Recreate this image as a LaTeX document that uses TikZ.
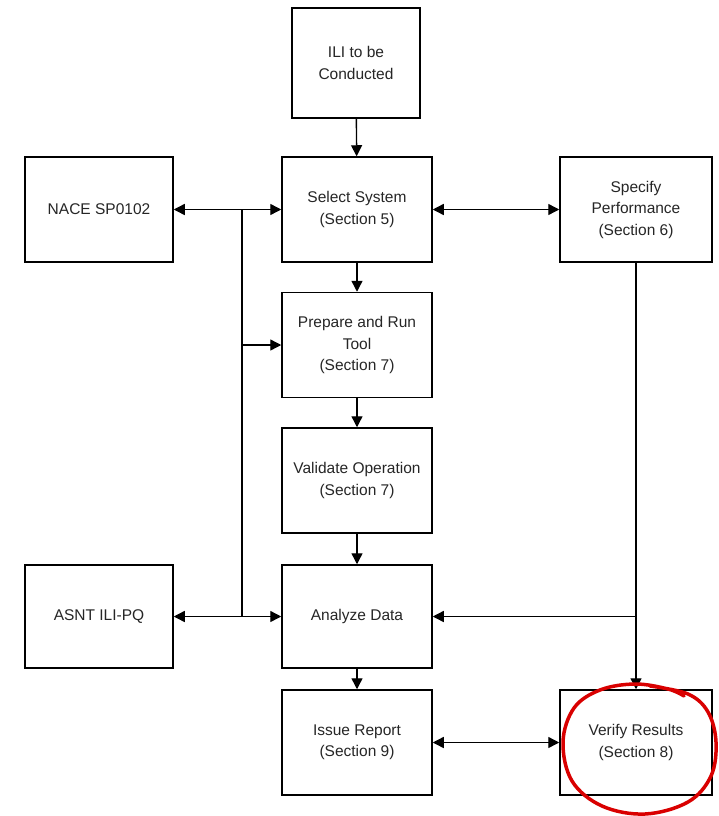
\documentclass[tikz,border=0pt]{standalone}
\usepackage{fontspec}
\setmainfont{Liberation Sans}
\usetikzlibrary{arrows.meta}
\begin{document}
\begin{tikzpicture}[x=1pt,y=-1pt,
  box/.style={draw=black, line width=1.5pt, fill=white, align=center,
    text=black!85, font=\fontsize{15.5}{21.5}\selectfont, inner sep=2pt},
  wide/.style={box, minimum width=150pt, minimum height=105pt},
  link/.style={line width=1.4pt},
  tip/.style={Triangle[length=11pt,width=11pt]},
  arr/.style={link, -{Triangle[length=11pt,width=11pt]}},
  darr/.style={link, {Triangle[length=11pt,width=11pt]}-{Triangle[length=11pt,width=11pt]}},
  mark circle/.style={draw=red!85!black, line width=3.5pt, line cap=round}]
\useasboundingbox (0,0) rectangle (718,816);
\fill[white] (0,0) rectangle (718,816);

% process boxes
\node[box, minimum width=128pt, minimum height=110pt] (ili) at (356,63) {ILI to be\\Conducted};
\node[wide] (sel)  at (357,209.5) {Select System\\(Section 5)};
\node[wide, minimum width=148pt] (nace) at (99,209.5) {NACE SP0102};
\node[wide, minimum width=152pt] (spec) at (636,209.5) {Specify\\Performance\\(Section 6)};
\node[wide] (prep) at (357,345) {Prepare and Run\\Tool\\(Section 7)};
\node[wide] (val)  at (357,480.5) {Validate Operation\\(Section 7)};
\node[wide, minimum height=103pt] (ana) at (357,616.5) {Analyze Data};
\node[wide, minimum width=148pt, minimum height=103pt] (asnt) at (99,616.5) {ASNT ILI-PQ};
\node[wide] (iss)  at (357,742.5) {Issue Report\\(Section 9)};
\node[wide, minimum width=152pt] (ver) at (636,742.5) {Verify Results\\(Section 8)};

% main flow
\draw[arr] (ili) -- (sel);
\draw[arr] (sel) -- (prep);
\draw[arr] (prep) -- (val);
\draw[arr] (val) -- (ana);
\draw[arr] (ana) -- (iss);

% left-hand bus to the reference documents
\coordinate (bt) at (242,209.5);
\coordinate (bb) at (242,616.5);
\draw[link] (bt) -- (bb);
\draw[link, line width=2pt] (bt) -- (242,345);
\draw[arr] (bt) -- (nace.east);
\draw[arr] (bt) -- (sel.west);
\draw[arr] (bt) |- (prep.west);
\draw[arr] (bb) -- (asnt.east);
\draw[arr] (bb) -- (ana.west);

% right-hand links
\draw[darr] (sel.east) -- (spec.west);
\coordinate (sj) at (spec.south |- ana.east);
\draw[arr] (spec.south) -- (ver.north);
\draw[arr] (sj) -- (ana.east);
\draw[darr] (iss.east) -- (ver.west);

% hand-drawn highlight around the last step
\draw[mark circle] plot[smooth, tension=0.6] coordinates {
  (650,686) (688,694) (708,712) (716,742) (711,776) (688,802)
  (645,814) (602,806) (572,781) (563,742) (574,708) (600,690)
  (635,684) (668,689) (684,696)};
\end{tikzpicture}
\end{document}
